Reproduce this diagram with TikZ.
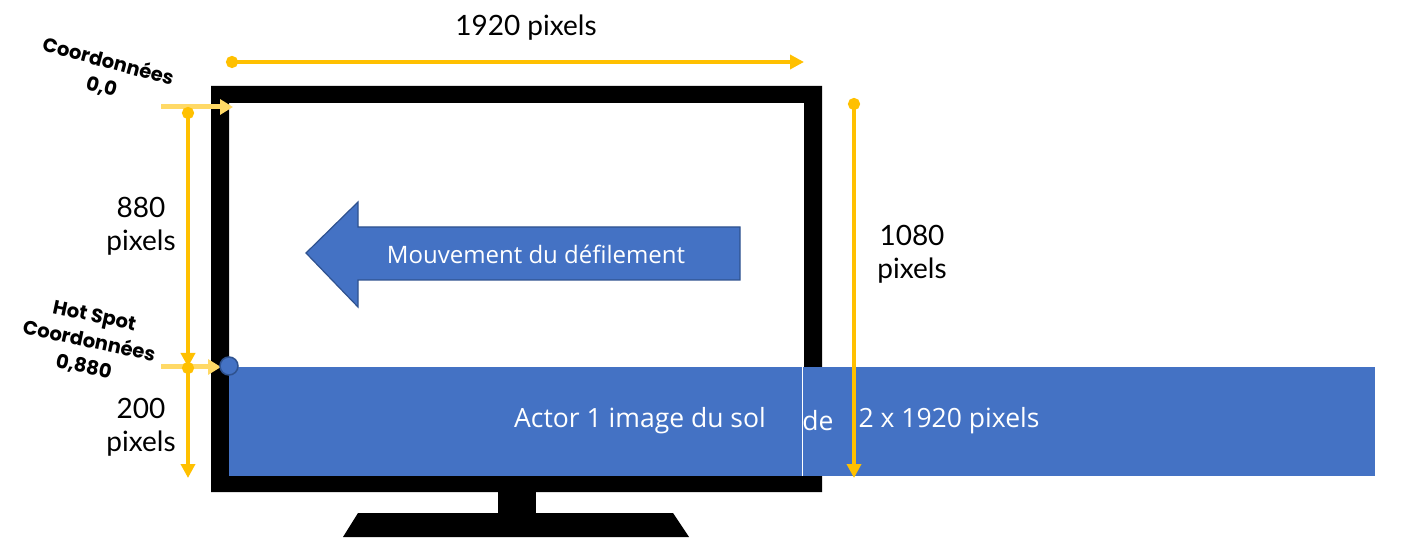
\documentclass[tikz,border=0pt]{standalone}
\usepackage{fontspec}
\usetikzlibrary{arrows.meta}
\newfontfamily\dimfont{Lato}
\newfontfamily\bandfont{Open Sans}
\newfontfamily\popfont{Poppins}
\definecolor{gold}{HTML}{FFC000}
\definecolor{lightgold}{HTML}{FFD966}
\definecolor{accblue}{HTML}{4472C4}
\definecolor{darkblue}{HTML}{2F528F}
\tikzset{
  dimarrow/.style={draw=gold, line width=4pt, {Circle[length=12pt,width=12pt]}-{Triangle[length=14pt,width=14pt]}},
  markarrow/.style={draw=lightgold, line width=5pt, -{Triangle[length=13pt,width=15pt]}},
  dimlabel/.style={font=\dimfont\fontsize{28}{33}\selectfont, align=center, text=black, inner sep=0pt},
  bandlabel/.style={font=\bandfont\fontsize{26.5}{30}\selectfont, text=white, inner sep=0pt},
  coordlabel/.style={font=\popfont\bfseries\fontsize{19.5}{26}\selectfont, align=center, inner sep=0pt},
}
\begin{document}
\begin{tikzpicture}[x=1pt,y=-1pt]
\useasboundingbox (0,0) rectangle (1401,553);
% monitor
\fill[black,even odd rule] (211,86) rectangle (822,492) (229,103) rectangle (804,476);
\fill[black] (498,490) rectangle (536,514);
\fill[black] (358,513) -- (673,513) -- (689,537) -- (343,537) -- cycle;
% ground band
\fill[accblue] (229,367) rectangle (1375,476);
\draw[white, line width=1pt] (802,367) -- (802,476);
\node[bandlabel] (actor) at (640,421) {Actor 1 image du sol};
\node[bandlabel] (de) at (818,421) {de};
\node[bandlabel] (size) at (949,421) {2 x 1920 pixels};
% scroll arrow
\draw[fill=accblue, draw=darkblue, line width=1.2pt, line join=miter]
  (306,253) -- (358,202) -- (358,227) -- (740,227) -- (740,280) -- (358,280) -- (358,307) -- cycle;
\node[font=\bandfont\fontsize{24}{28}\selectfont, text=white, inner sep=0pt] (scroll) at (536,254) {Mouvement du défilement};
% coordinates
\coordinate (topL) at (226,62);
\coordinate (topR) at (804,62);
\coordinate (rightT) at (854,98);
\coordinate (rightB) at (854,478);
\coordinate (leftT) at (188,107);
\coordinate (leftM) at (188,367);
\coordinate (leftM2) at (188,362);
\coordinate (leftB) at (188,478);
\coordinate (originS) at (161,107);
\coordinate (originE) at (233,107);
\coordinate (hotS) at (161,367);
\coordinate (hotE) at (221,367);
% light marker arrows
\draw[markarrow] (originS) -- (originE);
\draw[markarrow] (hotS) -- (hotE);
% dimension arrows
\draw[dimarrow] (topL) -- (topR);
\draw[dimarrow] (rightT) -- (rightB);
\draw[dimarrow] (leftT) -- (leftM);
\draw[dimarrow] (leftM2) -- (leftB);
% hot spot
\node[circle, fill=accblue, draw=darkblue, line width=1.5pt, minimum size=18pt, inner sep=0pt] (hot) at (229,366) {};
% labels
\node[dimlabel] (w) at (526,28) {1920 pixels};
\node[dimlabel] (h880) at (141,226) {880\\pixels};
\node[dimlabel] (h1080) at (912,254) {1080\\pixels};
\node[dimlabel] (h200) at (141,427) {200\\pixels};
\node[coordlabel, rotate=-15] (orig) at (105,74) {Coordonnées\\0,0};
\node[coordlabel, rotate=-12] (hotlbl) at (89,342) {Hot Spot\\Coordonnées\\0,880};
\end{tikzpicture}
\end{document}
